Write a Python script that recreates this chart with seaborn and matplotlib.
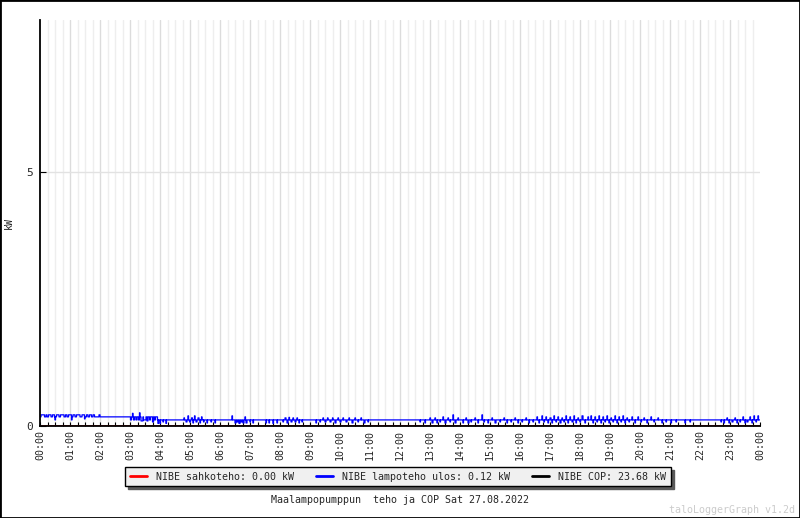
import numpy as np
import pandas as pd
import seaborn as sns
import matplotlib.pyplot as plt
from matplotlib.patches import Rectangle
from matplotlib.ticker import MultipleLocator

# --- data: heat pump output (kW) over one day, minutes since midnight ---
BASE_START = [0, 235]
BASE_VAL = [0.18, 0.12]

# short deviations from the base level: (start minute, end minute, kW)
EV_START = [2, 12, 17, 25, 30, 33, 41, 51, 57, 63, 66, 73, 84, 89, 93, 99, 106, 118,
            181, 185, 187, 192, 197, 199, 202, 207, 214, 219, 225, 229,
            236, 240, 246, 252,
            288, 292, 296, 299, 303, 306, 309, 312, 316, 320, 323, 327, 334, 342, 350,
            384, 390, 394, 398, 402, 406, 410, 412, 420, 426,
            452, 458, 466, 474, 486, 490, 494, 498, 502, 506, 510, 514, 518, 524,
            552, 560, 566, 570, 575, 580, 585, 590, 596, 600, 606, 612, 618, 624, 630,
            636, 642, 648, 656,
            760, 770, 780, 784, 790, 794, 800, 806, 810, 816, 820, 826, 830, 836,
            846, 852, 856, 862, 870, 876, 884, 888, 896, 904, 910, 920, 928, 934, 942,
            950, 956, 964, 972, 978, 986,
            994, 998, 1004, 1008, 1012, 1016, 1020, 1024, 1028, 1032, 1036, 1040, 1044,
            1048, 1052, 1056, 1060, 1064, 1068, 1072, 1076, 1080, 1084, 1090, 1096,
            1102, 1106, 1110, 1114, 1118, 1122, 1126, 1130, 1134, 1138, 1142, 1146, 1150,
            1154, 1158, 1162, 1166, 1170, 1174, 1178, 1184, 1190, 1196, 1202, 1208, 1214,
            1222, 1228, 1236,
            1244, 1252, 1262, 1272, 1290, 1300,
            1362, 1368, 1374, 1378, 1384, 1390, 1394, 1400, 1406, 1410, 1414, 1420, 1424,
            1428, 1432, 1436]
EV_END = [9, 14, 22, 29, 31, 38, 48, 54, 63, 64, 70, 80, 89, 90, 96, 103, 109, 120,
          183, 186, 189, 194, 199, 200, 206, 212, 216, 221, 227, 231,
          237, 241, 247, 253,
          289, 294, 297, 301, 305, 307, 310, 314, 318, 321, 324, 328, 335, 343, 351,
          385, 392, 396, 400, 404, 408, 411, 414, 421, 427,
          453, 459, 467, 475, 487, 492, 496, 499, 504, 507, 512, 515, 519, 525,
          553, 561, 567, 572, 576, 582, 586, 592, 597, 602, 607, 614, 619, 626, 631,
          637, 643, 650, 657,
          761, 771, 781, 786, 791, 795, 801, 807, 812, 817, 821, 827, 832, 837,
          847, 853, 858, 863, 871, 877, 885, 889, 897, 905, 912, 921, 929, 935, 943,
          951, 957, 965, 973, 979, 987,
          995, 999, 1005, 1009, 1013, 1017, 1022, 1025, 1029, 1033, 1037, 1042, 1045,
          1049, 1053, 1057, 1061, 1066, 1069, 1073, 1077, 1081, 1086, 1091, 1097,
          1103, 1107, 1111, 1115, 1119, 1123, 1127, 1131, 1135, 1139, 1143, 1147, 1151,
          1155, 1159, 1163, 1167, 1171, 1175, 1179, 1185, 1191, 1197, 1203, 1209, 1215,
          1223, 1229, 1237,
          1245, 1253, 1263, 1273, 1291, 1301,
          1363, 1369, 1375, 1379, 1386, 1391, 1395, 1401, 1407, 1411, 1416, 1421, 1425,
          1429, 1433, 1437]
EV_VAL = [0.22, 0.22, 0.22, 0.22, 0.12, 0.22, 0.22, 0.22, 0.22, 0.12, 0.22, 0.22, 0.22, 0.14, 0.22, 0.22, 0.22, 0.22,
          0.12, 0.25, 0.12, 0.12, 0.12, 0.26, 0.10, 0.12, 0.10, 0.12, 0.08, 0.12,
          0.05, 0.05, 0.08, 0.05,
          0.16, 0.08, 0.20, 0.08, 0.16, 0.06, 0.20, 0.08, 0.16, 0.06, 0.18, 0.08, 0.06, 0.08, 0.06,
          0.20, 0.06, 0.08, 0.05, 0.08, 0.06, 0.18, 0.06, 0.08, 0.06,
          0.06, 0.06, 0.05, 0.06, 0.08, 0.16, 0.06, 0.17, 0.08, 0.16, 0.08, 0.16, 0.06, 0.08,
          0.06, 0.08, 0.16, 0.08, 0.16, 0.08, 0.16, 0.06, 0.16, 0.08, 0.16, 0.08, 0.16, 0.06, 0.16,
          0.08, 0.16, 0.06, 0.08,
          0.08, 0.06, 0.16, 0.06, 0.16, 0.06, 0.08, 0.18, 0.06, 0.16, 0.08, 0.22, 0.06, 0.16,
          0.06, 0.16, 0.06, 0.08, 0.16, 0.06, 0.22, 0.08, 0.06, 0.16, 0.06, 0.08, 0.16, 0.06, 0.08,
          0.16, 0.06, 0.08, 0.16, 0.06, 0.08,
          0.18, 0.06, 0.20, 0.08, 0.18, 0.06, 0.16, 0.06, 0.20, 0.08, 0.18, 0.06, 0.16,
          0.08, 0.20, 0.06, 0.18, 0.08, 0.20, 0.06, 0.16, 0.08, 0.20, 0.06, 0.18,
          0.20, 0.06, 0.18, 0.08, 0.20, 0.06, 0.18, 0.08, 0.20, 0.06, 0.16, 0.08, 0.20,
          0.06, 0.18, 0.08, 0.20, 0.06, 0.16, 0.08, 0.18, 0.06, 0.18, 0.08, 0.16, 0.06,
          0.18, 0.08, 0.16,
          0.06, 0.08, 0.06, 0.08, 0.06, 0.08,
          0.08, 0.06, 0.16, 0.06, 0.08, 0.16, 0.06, 0.08, 0.18, 0.06, 0.08, 0.18, 0.06,
          0.20, 0.08, 0.20]

ELEC_KW = 0.00      # NIBE sahkoteho (current)
HEAT_KW_LAST = 0.12  # NIBE lampoteho ulos (current)
COP_LAST = 23.68     # NIBE COP (current)

TICK_LABELS = ["00:00", "01:00", "02:00", "03:00", "04:00", "05:00", "06:00", "07:00",
               "08:00", "09:00", "10:00", "11:00", "12:00", "13:00", "14:00", "15:00",
               "16:00", "17:00", "18:00", "19:00", "20:00", "21:00", "22:00", "23:00",
               "00:00"]

# --- build minute series ---
minutes = np.arange(0, 1441)
heat = np.empty(minutes.size)
for i, start in enumerate(BASE_START):
    heat[minutes >= start] = BASE_VAL[i]
for s, e, v in zip(EV_START, EV_END, EV_VAL):
    heat[(minutes >= s) & (minutes < e)] = v
heat[-1] = HEAT_KW_LAST

df = pd.DataFrame({
    "hour": minutes / 60.0,
    "heat": heat,
    "elec": np.full(minutes.size, ELEC_KW),
    "cop": np.full(minutes.size, COP_LAST),
})

sns.set_theme(style="white")
plt.rcParams["font.family"] = ["DejaVu Sans Mono"]
FS = 7.2

fig = plt.figure(figsize=(8.0, 5.18), dpi=100)
ax = fig.add_axes([0.05, 0.1776, 0.90, 0.7838])

sns.lineplot(data=df, x="hour", y="elec", color="red", linewidth=1.2,
             drawstyle="steps-post", ax=ax, zorder=1, estimator=None)
sns.lineplot(data=df, x="hour", y="cop", color="black", linewidth=1.2,
             drawstyle="steps-post", ax=ax, zorder=2, estimator=None)
sns.lineplot(data=df, x="hour", y="heat", color="blue", linewidth=0.9,
             drawstyle="steps-post", ax=ax, zorder=3, estimator=None)

ax.set_xlim(0, 24)
ax.set_ylim(0, 8)

# grid: quarter hours light, full hours a bit darker
for q in np.arange(0.25, 24, 0.25):
    is_hour = abs(q - round(q)) < 1e-9
    ax.axvline(q, color="#dcdcdc" if is_hour else "#eeeeee", linewidth=1.0, zorder=0)
ax.axhline(5, color="#e2e2e2", linewidth=1.0, zorder=0)

ax.set_xticks(np.arange(0, 25, 1))
ax.set_xticklabels(TICK_LABELS, rotation=90, fontsize=FS)
ax.xaxis.set_minor_locator(MultipleLocator(0.25))
ax.tick_params(axis="x", which="both", direction="in", length=3, width=0.8,
               color="black", bottom=True, pad=3)
ax.set_yticks([0, 5])
ax.set_yticklabels(["0", "5"], fontsize=FS + 0.8)
ax.tick_params(axis="y", direction="in", length=4.5, width=0.8, color="black",
               left=True, pad=5)

ax.set_xlabel("")
ax.set_ylabel("kW", fontsize=FS)
ax.yaxis.set_label_coords(-0.036, 0.5)

for side in ("top", "right"):
    ax.spines[side].set_visible(False)
for side in ("left", "bottom"):
    ax.spines[side].set_color("black")
    ax.spines[side].set_linewidth(1.3)
    ax.spines[side].set_zorder(4)

handles = [plt.Line2D([], [], color="red", lw=2),
           plt.Line2D([], [], color="blue", lw=2),
           plt.Line2D([], [], color="black", lw=2)]
labels = [f"NIBE sahkoteho: {ELEC_KW:.2f} kW",
          f"NIBE lampoteho ulos: {HEAT_KW_LAST:.2f} kW",
          f"NIBE COP: {COP_LAST:.2f} kW"]
leg = fig.legend(handles, labels, loc="center", bbox_to_anchor=(0.4975, 0.0792),
                 ncol=3, fontsize=FS, frameon=True, fancybox=False,
                 shadow={"color": "0.35", "alpha": 1.0},
                 handlelength=1.7, handletextpad=1.0, columnspacing=2.1,
                 borderpad=0.45, borderaxespad=0)
leg.get_frame().set_edgecolor("black")
leg.get_frame().set_facecolor("#f0f0f0")
leg.get_frame().set_linewidth(1.0)

fig.text(0.5, 1 - 500 / 518, "Maalampopumppun  teho ja COP Sat 27.08.2022",
         ha="center", va="center", fontsize=FS)
fig.text(0.994, 1 - 510 / 518, "taloLoggerGraph v1.2d", ha="right", va="center",
         fontsize=FS, color="#cccccc")

fig.add_artist(Rectangle((0, 0), 1, 1, transform=fig.transFigure, fill=False,
                         edgecolor="black", linewidth=2))

fig.savefig("out.png", dpi=100, facecolor="white")
